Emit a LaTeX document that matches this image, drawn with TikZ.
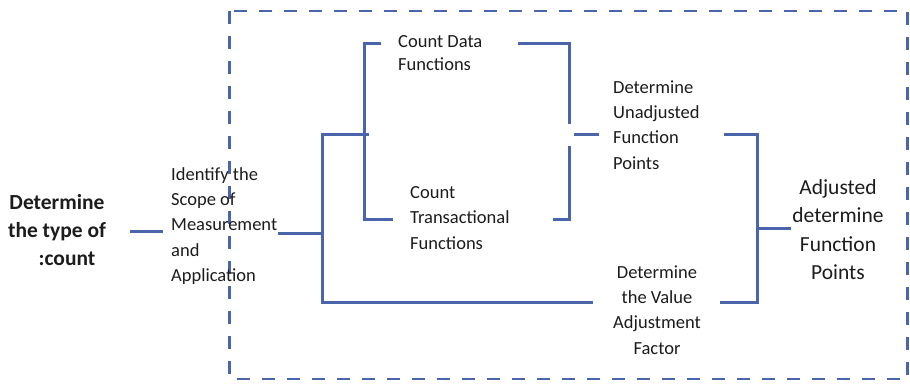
\documentclass[tikz,border=0pt]{standalone}
\usepackage{fontspec}
\setmainfont{Carlito}
\definecolor{lineblue}{RGB}{74,101,172}
\definecolor{txt}{RGB}{28,28,28}
\begin{document}
\begin{tikzpicture}[x=1pt,y=-1pt,
  conn/.style={draw=lineblue,line width=3pt},
  frame/.style={draw=lineblue,line width=2.6pt,dash pattern=on 13pt off 12pt},
  lbl/.style={inner sep=0pt,text=txt,font=\fontsize{18.5}{25.3}\selectfont},
  biglbl/.style={inner sep=0pt,text=txt,font=\fontsize{21.5}{28.3}\selectfont}]
\useasboundingbox (0,0) rectangle (910,383);
\fill[white] (0,0) rectangle (910,383);
% dashed frame
\draw[frame] (229.5,11) rectangle (907.5,379);
% text nodes
\node[biglbl,font=\bfseries\fontsize{21.5}{28.3}\selectfont,align=center] (type) at (57,230) {Determine\\the type of\\\hspace*{20pt}:count};
\node[lbl,anchor=west,align=left] (scope) at (171,226) {Identify the\\Scope of\\Measurement\\and\\Application};
\node[lbl,anchor=west,align=left,font=\fontsize{18.5}{23.5}\selectfont] (data) at (398,53) {Count Data\\Functions};
\node[lbl,anchor=west,align=left] (trans) at (410,218) {Count\\Transactional\\Functions};
\node[lbl,anchor=west,align=left] (ufp) at (613,125) {Determine\\Unadjusted\\Function\\Points};
\node[lbl,align=center] (vaf) at (657,310) {Determine\\the Value\\Adjustment\\Factor};
\node[biglbl,align=center] (afp) at (838,229.5) {Adjusted\\determine\\Function\\Points};
% junction coordinates
\coordinate (a1) at (130,231);
\coordinate (a2) at (163,231);
\coordinate (m1) at (278,233);
\coordinate (j1) at (322,233);
\coordinate (j1t) at (322,134);
\coordinate (j1b) at (322,302);
\coordinate (j2m) at (369,134);
\coordinate (j2t) at (364,43);
\coordinate (j2b) at (364,219);
\coordinate (dL) at (381,43);
\coordinate (tL) at (393,219);
\coordinate (dR) at (518,43);
\coordinate (tR) at (553,219);
\coordinate (k1t) at (569,43);
\coordinate (k1a) at (569,124);
\coordinate (k1b) at (569,146);
\coordinate (k1d) at (569,219);
\coordinate (s1) at (574,134);
\coordinate (s2) at (599,134);
\coordinate (uR) at (724,134);
\coordinate (vL) at (593,302);
\coordinate (vR) at (720,302);
\coordinate (k2t) at (757,134);
\coordinate (k2b) at (757,302);
\coordinate (k2m) at (757,228);
\coordinate (aL) at (791,228);
% connectors
\draw[conn] (a1) -- (a2);
\draw[conn] (m1) -- (j1);
\draw[conn] (j2m) -- (j1t) -- (j1b) -- (vL);
\draw[conn] (dL) -- (j2t) -- (j2b) -- (tL);
\draw[conn] (dR) -- (k1t) -- (k1a);
\draw[conn] (k1b) -- (k1d) -- (tR);
\draw[conn] (s1) -- (s2);
\draw[conn] (uR) -- (k2t) -- (k2b) -- (vR);
\draw[conn] (k2m) -- (aL);
\end{tikzpicture}
\end{document}
